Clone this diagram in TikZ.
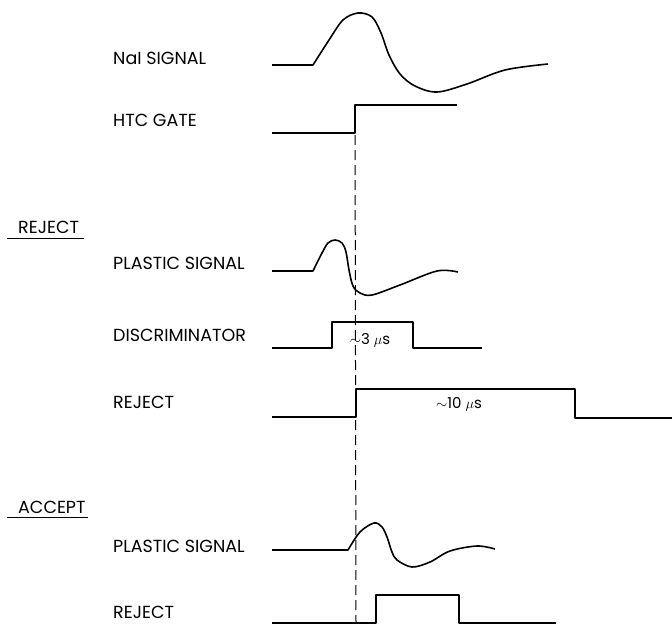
\documentclass[tikz,border=0pt]{standalone}
\usepackage{fontspec}
\setmainfont{Poppins}
\begin{document}
\begin{tikzpicture}[x=1pt,y=-1pt,
  lbl/.style={anchor=west,inner sep=0pt,font=\fontsize{17.5}{20}\selectfont},
  dur/.style={inner sep=0pt,font=\fontsize{15}{18}\selectfont},
  wave/.style={line width=1.6pt,line join=round},
  guide/.style={line width=1pt,dash pattern=on 10pt off 5pt}]
\useasboundingbox (0,0) rectangle (672,625);
% labels
\node[lbl] (lnai) at (113,58) {NaI SIGNAL};
\node[lbl] (lhtc) at (113,120) {HTC GATE};
\node[lbl] (hrej) at (18,227) {REJECT};
\node[lbl] (lps1) at (113,263) {PLASTIC SIGNAL};
\node[lbl] (ldis) at (113,335) {DISCRIMINATOR};
\node[lbl] (lrej1) at (113,402) {REJECT};
\node[lbl] (hacc) at (18,507) {ACCEPT};
\node[lbl] (lps2) at (113,546) {PLASTIC SIGNAL};
\node[lbl] (lrej2) at (113,612) {REJECT};
% underlines
\coordinate (u1a) at (7,238); \coordinate (u1b) at (84,238);
\coordinate (u2a) at (7,517); \coordinate (u2b) at (88,517);
\draw[line width=1pt] (u1a) -- (u1b);
\draw[line width=1pt] (u2a) -- (u2b);
% NaI signal
\draw[wave] (272,65) -- (313,65)
  plot[smooth,tension=0.55] coordinates {(313,65) (329,40) (343,20) (358,13) (372,17) (381,33) (389,55) (400,74) (415,86) (437,92) (467,84) (505,70) (548,64)};
% HTC gate
\coordinate (gstep) at (355,105);
\draw[wave] (272,133) -- (355,133) -- (gstep) -- (457,105);
% dashed guide
\coordinate (gend) at (356,623);
\draw[guide] (gstep) -- (gend);
% plastic signal (reject)
\draw[wave] (272,271) -- (313,271)
  plot[smooth,tension=0.55] coordinates {(313,271) (322,253) (328,243) (335,240) (342,243) (346,252) (349,270) (353,286) (360,293) (372,295) (400,285) (437,271) (458,272)};
% discriminator
\draw[wave] (272,348) -- (332,348) -- (332,322) -- (413,322) -- (413,348) -- (482,348);
\node[dur] (d3) at (370,340) {$\sim$3 $\mu$s};
% reject
\draw[wave] (272,417) -- (356,417) -- (356,389) -- (575,389) -- (575,418) -- (672,418);
\node[dur] (d10) at (459,404) {$\sim$10 $\mu$s};
% plastic signal (accept)
\draw[wave] (272,550) -- (348,550)
  plot[smooth,tension=0.55] coordinates {(348,550) (360,532) (374,523) (382,527) (387,537) (392,552) (397,560) (412,567) (430,562) (450,551) (477,546) (495,549)};
% reject (accept case)
\draw[wave] (272,623) -- (376,623) -- (376,595) -- (459,595) -- (459,623) -- (556,623);
\end{tikzpicture}
\end{document}
